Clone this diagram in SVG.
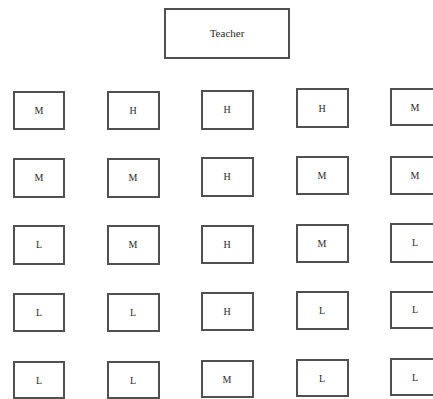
<svg xmlns="http://www.w3.org/2000/svg" width="433" height="399" viewBox="0 0 433 399">
<style>
rect.b{fill:#fff;stroke:#505050;stroke-width:2}
text{font-family:"Liberation Serif","DejaVu Serif",serif;font-size:10px;fill:#2a2a2a;text-anchor:middle;dominant-baseline:central}
text.t{font-size:11px}
</style>
<rect width="433" height="399" fill="#fff"/>
<g id="teacher"><rect class="b" x="165" y="9" width="124" height="49"/><text class="t" x="227" y="33">Teacher</text></g>
<g id="r1c1"><rect class="b" x="14" y="92" width="50" height="37"/><text x="39" y="110">M</text></g>
<g id="r1c2"><rect class="b" x="108" y="92" width="51" height="37"/><text x="133" y="110">H</text></g>
<g id="r1c3"><rect class="b" x="202" y="91" width="51" height="38"/><text x="227" y="109">H</text></g>
<g id="r1c4"><rect class="b" x="297" y="89" width="51" height="38"/><text x="322" y="108">H</text></g>
<g id="r1c5"><rect class="b" x="391" y="89" width="50" height="36"/><text x="415" y="107">M</text></g>
<g id="r2c1"><rect class="b" x="14" y="159" width="50" height="38"/><text x="39" y="177">M</text></g>
<g id="r2c2"><rect class="b" x="108" y="159" width="51" height="38"/><text x="133" y="177">M</text></g>
<g id="r2c3"><rect class="b" x="202" y="158" width="51" height="38"/><text x="227" y="176">H</text></g>
<g id="r2c4"><rect class="b" x="297" y="157" width="51" height="37"/><text x="322" y="175">M</text></g>
<g id="r2c5"><rect class="b" x="391" y="157" width="50" height="37"/><text x="415" y="175">M</text></g>
<g id="r3c1"><rect class="b" x="14" y="226" width="50" height="38"/><text x="39" y="244">L</text></g>
<g id="r3c2"><rect class="b" x="108" y="226" width="51" height="38"/><text x="133" y="244">M</text></g>
<g id="r3c3"><rect class="b" x="202" y="226" width="51" height="37"/><text x="227" y="244">H</text></g>
<g id="r3c4"><rect class="b" x="297" y="225" width="51" height="37"/><text x="322" y="243">M</text></g>
<g id="r3c5"><rect class="b" x="391" y="224" width="50" height="38"/><text x="415" y="242">L</text></g>
<g id="r4c1"><rect class="b" x="14" y="294" width="50" height="37"/><text x="39" y="312">L</text></g>
<g id="r4c2"><rect class="b" x="108" y="294" width="51" height="37"/><text x="133" y="312">L</text></g>
<g id="r4c3"><rect class="b" x="202" y="293" width="51" height="37"/><text x="227" y="311">H</text></g>
<g id="r4c4"><rect class="b" x="297" y="292" width="51" height="37"/><text x="322" y="310">L</text></g>
<g id="r4c5"><rect class="b" x="391" y="292" width="50" height="36"/><text x="415" y="309">L</text></g>
<g id="r5c1"><rect class="b" x="14" y="362" width="50" height="36"/><text x="39" y="380">L</text></g>
<g id="r5c2"><rect class="b" x="108" y="362" width="51" height="36"/><text x="133" y="380">L</text></g>
<g id="r5c3"><rect class="b" x="202" y="361" width="51" height="36"/><text x="227" y="379">M</text></g>
<g id="r5c4"><rect class="b" x="297" y="360" width="51" height="36"/><text x="322" y="378">L</text></g>
<g id="r5c5"><rect class="b" x="391" y="359" width="50" height="36"/><text x="415" y="377">L</text></g>
<g id="connectors"/>
</svg>
